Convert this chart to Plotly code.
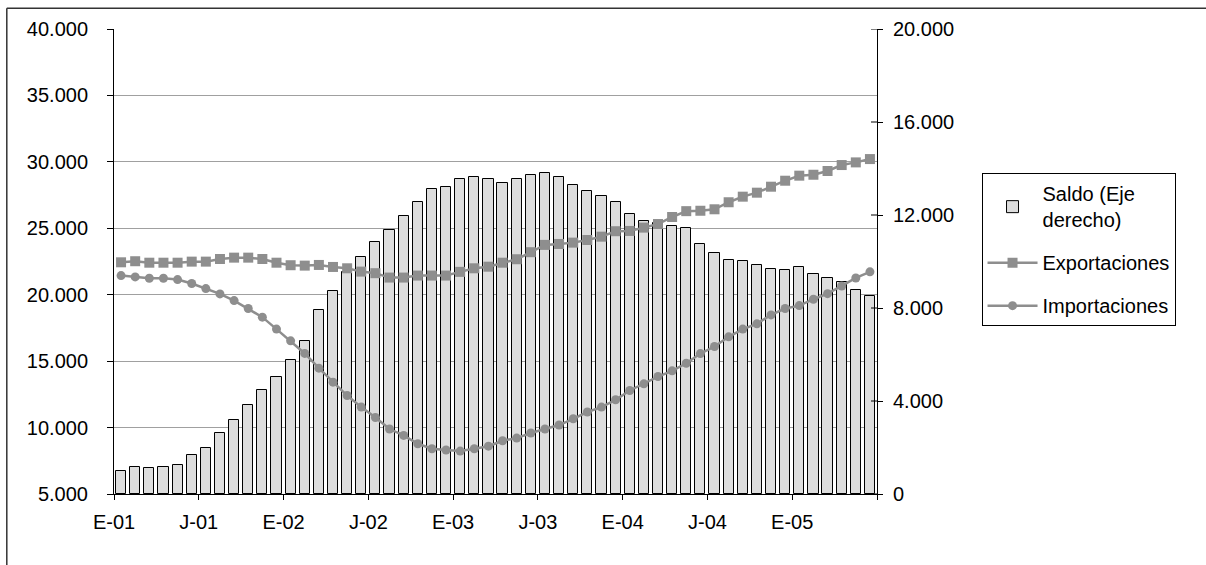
import numpy as np
import plotly.graph_objects as go

# ---- data ----
months_tick_labels = ["E-01", "J-01", "E-02", "J-02", "E-03", "J-03", "E-04", "J-04", "E-05"]

saldo = [1000, 1170, 1120, 1170, 1230, 1690, 2000, 2620, 3180, 3810, 4480, 5030, 5760, 6600,
         7900, 8720, 9560, 10180, 10850, 11340, 11970, 12570, 13100, 13200, 13530, 13640, 13530,
         13370, 13530, 13700, 13820, 13640, 13300, 13040, 12800, 12570, 12030, 11750, 11650, 11520, 11420,
         10740, 10350, 10080, 10010, 9850, 9680, 9620, 9750, 9450, 9290, 9110, 8780, 8530]

exportaciones = [22440, 22520, 22410, 22410, 22410, 22490, 22490, 22690, 22790, 22790, 22690, 22410, 22220,
                 22190, 22240, 22090, 21990, 21740, 21620, 21290, 21290, 21440, 21440, 21440, 21720, 21990, 22110,
                 22410, 22670, 23200, 23750, 23820, 23920, 24120, 24370, 24780, 24800, 25050, 25320, 25850, 26290,
                 26320, 26430, 26960, 27380, 27680, 28130, 28580, 28960, 29030, 29310, 29760, 29960, 30210]

importaciones = [21440, 21340, 21240, 21240, 21140, 20840, 20460, 20060, 19560, 18960, 18310, 17410, 16530,
                 15580, 14470, 13420, 12410, 11540, 10760, 9890, 9410, 8780, 8410, 8310, 8230, 8410, 8600,
                 9010, 9210, 9590, 9890, 10190, 10660, 11170, 11540, 12090, 12790, 13290, 13840, 14270, 14840,
                 15570, 16100, 16830, 17410, 17810, 18480, 18960, 19180, 19660, 20080, 20660, 21260, 21720]

left_ticks = [5000, 10000, 15000, 20000, 25000, 30000, 35000, 40000]
right_ticks = [0, 4000, 8000, 12000, 16000, 20000]

n = len(saldo)
x = np.arange(n) + 0.5
x_tickvals = list(range(0, 6 * len(months_tick_labels), 6)) + [n]
x_ticktext = months_tick_labels + [""]

FONT = "Liberation Sans, Arial, sans-serif"
GRAY = "#8e8e8e"
FS = 20

fig = go.Figure()

fig.add_trace(go.Bar(
    x=x, y=saldo, name="Saldo (Eje<br>derecho)", yaxis="y",
    marker=dict(color="#dddddd", line=dict(color="#000000", width=1)),
    width=0.72, legendgroup="a",
))
fig.add_trace(go.Scatter(
    x=x, y=exportaciones, name="Exportaciones", yaxis="y2", mode="lines+markers",
    line=dict(color=GRAY, width=2.5),
    marker=dict(symbol="square", size=10, color=GRAY),
    legendgroup="b",
))
fig.add_trace(go.Scatter(
    x=x, y=importaciones, name="Importaciones", yaxis="y2", mode="lines+markers",
    line=dict(color=GRAY, width=2.5),
    marker=dict(symbol="circle", size=9, color=GRAY),
    legendgroup="c",
))

shapes = []
# inside part of the crossing ticks on the right axis
for v in right_ticks:
    shapes.append(dict(type="line", xref="paper", yref="y", x0=1 - 6 / 763, x1=1, y0=v, y1=v,
                       line=dict(color="#000000", width=1)))
# outer frame (top and left edges)
shapes.append(dict(type="line", xref="paper", yref="paper", x0=-0.1405, x1=1.432, y0=1.0445, y1=1.0445,
                   line=dict(color="#333333", width=1.5)))
shapes.append(dict(type="line", xref="paper", yref="paper", x0=-0.1405, x1=-0.1405, y0=1.0445, y1=-0.16,
                   line=dict(color="#333333", width=1.5)))

fig.update_layout(
    width=1206, height=565,
    margin=dict(l=114, r=329, t=29, b=71),
    paper_bgcolor="white", plot_bgcolor="white",
    font=dict(family=FONT, size=FS, color="#000000"),
    separators=",.",
    bargap=0,
    showlegend=True,
    legend=dict(
        x=1.137, y=0.69, xanchor="left", yanchor="top",
        bordercolor="#000000", borderwidth=1, bgcolor="white",
        font=dict(family=FONT, size=FS, color="#000000"),
        tracegroupgap=14, traceorder="grouped", itemwidth=50,
    ),
    xaxis=dict(
        range=[0, n], tickmode="array", tickvals=x_tickvals, ticktext=x_ticktext,
        showline=True, linecolor="#000000", linewidth=1,
        ticks="outside", ticklen=5, tickcolor="#000000",
        showgrid=False, zeroline=False, ticklabelstandoff=5,
    ),
    yaxis=dict(
        side="right", range=[0, 20000], tickmode="array", tickvals=right_ticks,
        tickformat=",d",
        showline=True, linecolor="#000000", linewidth=1,
        ticks="outside", ticklen=5, tickcolor="#000000",
        showgrid=False, zeroline=False, ticklabelstandoff=6,
    ),
    yaxis2=dict(
        side="left", overlaying="y", range=[5000, 40000], tickmode="array", tickvals=left_ticks,
        tickformat=",d",
        showline=True, linecolor="#000000", linewidth=1,
        ticks="outside", ticklen=6, tickcolor="#000000",
        showgrid=True, gridcolor="#a0a0a0", gridwidth=1, zeroline=False,
        ticklabelstandoff=15,
    ),
    shapes=shapes,
)

fig.write_html("out.html")
